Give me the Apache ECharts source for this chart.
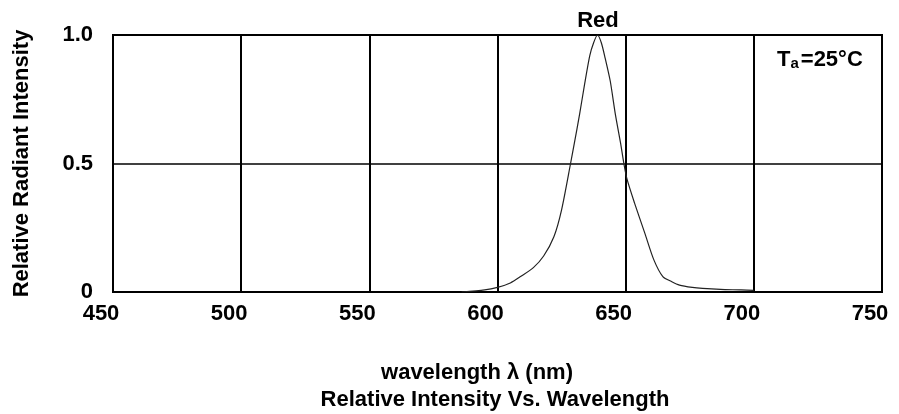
<!DOCTYPE html>
<html>
<head>
<meta charset="utf-8">
<script src="https://cdn.jsdelivr.net/npm/echarts@6/dist/echarts.min.js"></script>
<style>
html,body{margin:0;padding:0;background:#fff;}
#chart{width:899px;height:414px;}
</style>
</head>
<body>
<div id="chart"></div>
<script>
// wavelength (nm) and relative intensity
var wavelength = [586, 595, 600, 605, 609, 614, 618, 622, 625, 628.5, 630, 632, 634, 636, 637.5, 639, 640.5, 642, 644, 646, 648, 649.3, 650.5, 653.5, 657.5, 661, 664.5, 668, 671, 676, 680, 687, 695, 700];
var intensity = [0, 0.008, 0.018, 0.035, 0.06, 0.095, 0.14, 0.215, 0.32, 0.50, 0.58, 0.69, 0.81, 0.92, 0.97, 1.0, 0.97, 0.91, 0.82, 0.69, 0.58, 0.50, 0.44, 0.345, 0.228, 0.125, 0.06, 0.04, 0.027, 0.018, 0.014, 0.01, 0.008, 0.006];
var xTicks = [450, 500, 550, 600, 650, 700, 750];
var yTicks = [0, 0.5, 1.0];

var FONT = 'Liberation Sans, Arial, sans-serif';

window.addEventListener('load', function(){
	var myChart = echarts.init(document.getElementById('chart'));
	var pts = [];
	for(var i = 0; i < wavelength.length; i++){
		pts.push([wavelength[i], intensity[i]]);
	}
	var txt = {fontSize: 22, fontWeight: 'bold', color: '#000', fontFamily: FONT};
	var option = {
		animation: false,
		backgroundColor: '#fff',
		textStyle: {fontFamily: FONT},
		title: [
			{text: 'Red', left: 593, top: 5, textAlign: 'center', textStyle: txt},
			{text: '{t|T}{s|a}{t|=25°C}', left: 772, top: 44,
				textStyle: {rich: {
					t: txt,
					s: {fontSize: 15, fontWeight: 'bold', color: '#000', fontFamily: FONT, verticalAlign: 'bottom', padding: [4, 2, 0, 0]}
				}}},
			{text: 'wavelength λ (nm)', left: 472, top: 357, textAlign: 'center', textStyle: txt},
			{text: 'Relative Intensity Vs. Wavelength', left: 490, top: 384, textAlign: 'center', textStyle: txt}
		],
		grid: {left: 113, right: 17, top: 35, bottom: 122, show: true,
			borderColor: '#000', borderWidth: 2, backgroundColor: '#fff'},
		xAxis: {
			type: 'value', min: xTicks[0], max: xTicks[xTicks.length - 1], interval: 50,
			axisLine: {show: false}, axisTick: {show: false},
			splitLine: {show: true, lineStyle: {color: '#000', width: 2}},
			axisLabel: {fontSize: 22, fontWeight: 'bold', color: '#000', margin: 11,
				padding: [0, 24, 0, 0], fontFamily: FONT}
		},
		yAxis: {
			type: 'value', min: yTicks[0], max: yTicks[yTicks.length - 1], interval: 0.5,
			name: 'Relative Radiant Intensity', nameLocation: 'middle', nameGap: 80,
			nameTextStyle: txt,
			axisLine: {show: false}, axisTick: {show: false},
			splitLine: {show: true, lineStyle: {color: '#000', width: 1.5}},
			axisLabel: {fontSize: 22, fontWeight: 'bold', color: '#000', margin: 20, fontFamily: FONT,
				formatter: function(v){ return v === 0 ? '0' : v.toFixed(1); }}
		},
		series: [{
			type: 'line', data: pts, smooth: 0.25, symbol: 'none',
			lineStyle: {color: '#222', width: 1.2}
		}]
	};
	myChart.setOption(option);
});
</script>
</body>
</html>
